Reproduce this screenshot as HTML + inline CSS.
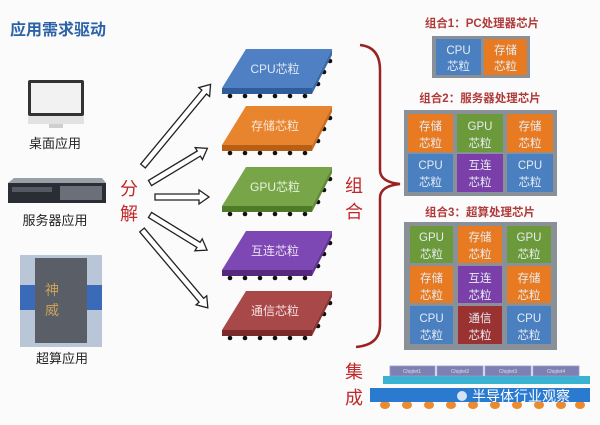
<!DOCTYPE html>
<html><head><meta charset="utf-8"><style>
html,body{margin:0;padding:0;background:#fff;}
svg{display:block;}
text{font-family:"Liberation Sans","Noto Sans CJK SC",sans-serif;}
</style></head><body>
<svg width="600" height="425" viewBox="0 0 600 425" xmlns="http://www.w3.org/2000/svg">
<rect width="600" height="425" fill="#fbfbfb"/>
<text x="10" y="35" font-size="16" font-weight="bold" fill="#2c62a8">应用需求驱动</text>

<!-- monitor -->
<rect x="28" y="80" width="56" height="36" rx="2" fill="#333"/>
<rect x="31" y="83" width="50" height="30" fill="#f2f2f2"/>
<rect x="28" y="116" width="56" height="8" fill="#e2e2e2"/>
<rect x="49" y="124" width="14" height="4" fill="#cfcfcf"/>
<text x="55" y="148" font-size="13" fill="#222" text-anchor="middle">桌面应用</text>

<!-- server -->
<polygon points="14,178 102,178 106,183 8,183" fill="#9aa0a8"/>
<rect x="8" y="183" width="98" height="20" fill="#2a2d33"/>
<rect x="12" y="187" width="40" height="5" fill="#555a62"/>
<rect x="60" y="186" width="42" height="14" fill="#6a6f78"/>
<text x="55" y="225" font-size="13" fill="#222" text-anchor="middle">服务器应用</text>

<!-- supercomputer -->
<rect x="20" y="255" width="82" height="92" fill="#b8c6d8"/>
<rect x="20" y="285" width="82" height="25" fill="#3a6ab8"/>
<rect x="35" y="258" width="52" height="85" fill="#5a5e66"/>
<text x="45" y="295" font-size="14" fill="#c9a35a">神</text>
<text x="45" y="315" font-size="14" fill="#c9a35a">威</text>
<text x="62" y="363" font-size="13" fill="#222" text-anchor="middle">超算应用</text>

<text x="120" y="195" font-size="18" fill="#c0282a">分</text>
<text x="120" y="220" font-size="18" fill="#c0282a">解</text>

<!-- arrows -->
<g fill="#fff" stroke="#222" stroke-width="1.3">
<path transform="translate(143,166) rotate(-50.4)" d="M0,-3 L96,-3 L96,-7 L106,0 L96,7 L96,3 L0,3 Z"/>
<path transform="translate(150,183) rotate(-31.1)" d="M0,-3 L57,-3 L57,-7 L67,0 L57,7 L57,3 L0,3 Z"/>
<path transform="translate(155,197)" d="M0,-3 L44,-3 L44,-7 L54,0 L44,7 L44,3 L0,3 Z"/>
<path transform="translate(150,215) rotate(31.6)" d="M0,-3 L57,-3 L57,-7 L67,0 L57,7 L57,3 L0,3 Z"/>
<path transform="translate(142,230) rotate(49.8)" d="M0,-3 L92,-3 L92,-7 L102,0 L92,7 L92,3 L0,3 Z"/>
</g>

<!-- chips -->
<g>
<g transform="translate(0,0)">
<g fill="#111"><circle cx="230" cy="96" r="2.3"/><circle cx="245" cy="96" r="2.3"/><circle cx="260" cy="96" r="2.3"/><circle cx="275" cy="96" r="2.3"/><circle cx="290" cy="96" r="2.3"/><circle cx="305" cy="96" r="2.3"/><circle cx="318" cy="84" r="2.3"/><circle cx="324" cy="72" r="2.3"/><circle cx="330" cy="61" r="2.3"/></g>
<polygon points="246,49 332,49 312,88 222,88" fill="#4f80c4"/>
<polygon points="222,88 312,88 312,94 222,94" fill="#2f5c9a"/>
<polygon points="312,88 332,49 332,55 312,94" fill="#3a6aa8"/>
<text x="275" y="73" font-size="12" fill="#dfe8f5" text-anchor="middle">CPU芯粒</text>
</g>
<g transform="translate(0,57)">
<g fill="#111"><circle cx="230" cy="96" r="2.3"/><circle cx="245" cy="96" r="2.3"/><circle cx="260" cy="96" r="2.3"/><circle cx="275" cy="96" r="2.3"/><circle cx="290" cy="96" r="2.3"/><circle cx="305" cy="96" r="2.3"/><circle cx="318" cy="84" r="2.3"/><circle cx="324" cy="72" r="2.3"/><circle cx="330" cy="61" r="2.3"/></g>
<polygon points="246,49 332,49 312,88 222,88" fill="#e8842e"/>
<polygon points="222,88 312,88 312,94 222,94" fill="#b85f16"/>
<polygon points="312,88 332,49 332,55 312,94" fill="#cc6e20"/>
<text x="275" y="73" font-size="12" fill="#fbe6d2" text-anchor="middle">存储芯粒</text>
</g>
<g transform="translate(0,118)">
<g fill="#111"><circle cx="230" cy="96" r="2.3"/><circle cx="245" cy="96" r="2.3"/><circle cx="260" cy="96" r="2.3"/><circle cx="275" cy="96" r="2.3"/><circle cx="290" cy="96" r="2.3"/><circle cx="305" cy="96" r="2.3"/><circle cx="318" cy="84" r="2.3"/><circle cx="324" cy="72" r="2.3"/><circle cx="330" cy="61" r="2.3"/></g>
<polygon points="246,49 332,49 312,88 222,88" fill="#78a548"/>
<polygon points="222,88 312,88 312,94 222,94" fill="#4f7a28"/>
<polygon points="312,88 332,49 332,55 312,94" fill="#5f8c34"/>
<text x="275" y="73" font-size="12" fill="#e8f2dc" text-anchor="middle">GPU芯粒</text>
</g>
<g transform="translate(0,182)">
<g fill="#111"><circle cx="230" cy="96" r="2.3"/><circle cx="245" cy="96" r="2.3"/><circle cx="260" cy="96" r="2.3"/><circle cx="275" cy="96" r="2.3"/><circle cx="290" cy="96" r="2.3"/><circle cx="305" cy="96" r="2.3"/><circle cx="318" cy="84" r="2.3"/><circle cx="324" cy="72" r="2.3"/><circle cx="330" cy="61" r="2.3"/></g>
<polygon points="246,49 332,49 312,88 222,88" fill="#7e48b4"/>
<polygon points="222,88 312,88 312,94 222,94" fill="#55287e"/>
<polygon points="312,88 332,49 332,55 312,94" fill="#663498"/>
<text x="275" y="73" font-size="12" fill="#ece0f6" text-anchor="middle">互连芯粒</text>
</g>
<g transform="translate(0,242)">
<g fill="#111"><circle cx="230" cy="96" r="2.3"/><circle cx="245" cy="96" r="2.3"/><circle cx="260" cy="96" r="2.3"/><circle cx="275" cy="96" r="2.3"/><circle cx="290" cy="96" r="2.3"/><circle cx="305" cy="96" r="2.3"/><circle cx="318" cy="84" r="2.3"/><circle cx="324" cy="72" r="2.3"/><circle cx="330" cy="61" r="2.3"/></g>
<polygon points="246,49 332,49 312,88 222,88" fill="#a84848"/>
<polygon points="222,88 312,88 312,94 222,94" fill="#7a2a2a"/>
<polygon points="312,88 332,49 332,55 312,94" fill="#8e3636"/>
<text x="275" y="73" font-size="12" fill="#f6e0e0" text-anchor="middle">通信芯粒</text>
</g>
</g>

<!-- brace -->
<path d="M360,45 Q380,47 380,70 L380,170 Q380,182 400,184 Q380,186 380,198 L380,325 Q380,345 356,347" fill="none" stroke="#9b2222" stroke-width="2.5"/>
<text x="345" y="192" font-size="18" fill="#c0282a">组</text>
<text x="345" y="218" font-size="18" fill="#c0282a">合</text>

<g font-size="11.5" font-weight="bold" fill="#b03a3a" text-anchor="middle">
<text x="482" y="27">组合1：PC处理器芯片</text>
<text x="480" y="102">组合2：服务器处理芯片</text>
<text x="480" y="216">组合3：超算处理芯片</text>
</g>

<g font-size="11.5" fill="#e6ecf4" text-anchor="middle">
<rect x="432" y="36" width="98" height="42" fill="#8a9097"/>
<rect x="436" y="39" width="45" height="36" fill="#4a7fc0"/><text x="458.5" y="54">CPU</text><text x="458.5" y="70">芯粒</text>
<rect x="484" y="39" width="43" height="36" fill="#e87b22"/><text x="505.5" y="54">存储</text><text x="505.5" y="70">芯粒</text>

<rect x="404" y="110" width="153" height="86" fill="#8a9097"/>
<rect x="408" y="114" width="45" height="38" fill="#e87b22"/><text x="430.5" y="130">存储</text><text x="430.5" y="147">芯粒</text>
<rect x="457" y="114" width="46" height="38" fill="#6c9a3a"/><text x="480" y="130">GPU</text><text x="480" y="147">芯粒</text>
<rect x="507" y="114" width="46" height="38" fill="#e87b22"/><text x="530" y="130">存储</text><text x="530" y="147">芯粒</text>
<rect x="408" y="154" width="45" height="38" fill="#4a7fc0"/><text x="430.5" y="169">CPU</text><text x="430.5" y="186">芯粒</text>
<rect x="457" y="154" width="46" height="38" fill="#7a3fa8"/><text x="480" y="169">互连</text><text x="480" y="186">芯粒</text>
<rect x="507" y="154" width="46" height="38" fill="#4a7fc0"/><text x="530" y="169">CPU</text><text x="530" y="186">芯粒</text>

<rect x="404" y="222" width="153" height="128" fill="#8a9097"/>
<rect x="410" y="226" width="43" height="37" fill="#6c9a3a"/><text x="431.5" y="241">GPU</text><text x="431.5" y="258">芯粒</text>
<rect x="458" y="226" width="44" height="37" fill="#e87b22"/><text x="480" y="241">存储</text><text x="480" y="258">芯粒</text>
<rect x="507" y="226" width="44" height="37" fill="#6c9a3a"/><text x="529" y="241">GPU</text><text x="529" y="258">芯粒</text>
<rect x="410" y="266" width="43" height="37" fill="#e87b22"/><text x="431.5" y="282">存储</text><text x="431.5" y="299">芯粒</text>
<rect x="458" y="266" width="44" height="37" fill="#7a3fa8"/><text x="480" y="282">互连</text><text x="480" y="299">芯粒</text>
<rect x="507" y="266" width="44" height="37" fill="#e87b22"/><text x="529" y="282">存储</text><text x="529" y="299">芯粒</text>
<rect x="410" y="306" width="43" height="38" fill="#4a7fc0"/><text x="431.5" y="322">CPU</text><text x="431.5" y="339">芯粒</text>
<rect x="458" y="306" width="44" height="38" fill="#9a3232"/><text x="480" y="322">通信</text><text x="480" y="339">芯粒</text>
<rect x="507" y="306" width="44" height="38" fill="#4a7fc0"/><text x="529" y="322">CPU</text><text x="529" y="339">芯粒</text>
</g>

<!-- integration -->
<text x="345" y="378" font-size="18" fill="#c0282a">集</text>
<text x="345" y="404" font-size="18" fill="#c0282a">成</text>
<g fill="#ec8a30">
<ellipse cx="385" cy="405" rx="5" ry="4"/><ellipse cx="407" cy="405" rx="5" ry="4"/><ellipse cx="429" cy="405" rx="5" ry="4"/><ellipse cx="451" cy="405" rx="5" ry="4"/><ellipse cx="473" cy="405" rx="5" ry="4"/><ellipse cx="495" cy="405" rx="5" ry="4"/><ellipse cx="517" cy="405" rx="5" ry="4"/><ellipse cx="539" cy="405" rx="5" ry="4"/><ellipse cx="561" cy="405" rx="5" ry="4"/><ellipse cx="580" cy="405" rx="5" ry="4"/>
</g>
<rect x="370" y="388" width="220" height="14" fill="#2a7ad0"/>
<rect x="383" y="376" width="207" height="8" fill="#3ab2d2"/>
<g fill="#7d80b2" stroke="#9a9cc8" stroke-width="0.8">
<rect x="390" y="366" width="45" height="10"/><rect x="437" y="366" width="46" height="10"/><rect x="485" y="366" width="46" height="10"/><rect x="533" y="366" width="46" height="10"/>
</g>
<g font-size="5" fill="#dde" text-anchor="middle"><text x="412" y="373">Chiplet1</text><text x="460" y="373">Chiplet2</text><text x="508" y="373">Chiplet3</text><text x="556" y="373">Chiplet4</text></g>
<circle cx="462" cy="396" r="5" fill="#fff" opacity="0.8"/>
<text x="472" y="401" font-size="14" fill="#fff">半导体行业观察</text>
</svg>
</body></html>
